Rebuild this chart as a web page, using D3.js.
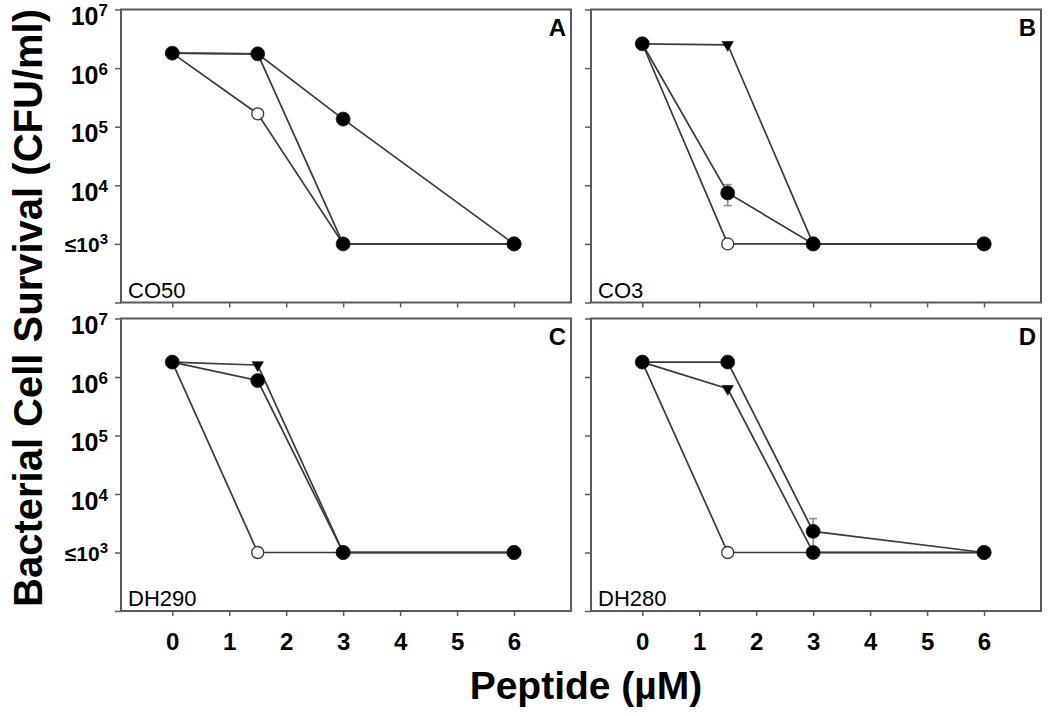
<!DOCTYPE html>
<html>
<head>
<meta charset="utf-8">
<script src="https://cdn.jsdelivr.net/npm/d3@7"></script>
<style>
  html, body { margin: 0; padding: 0; background: #fff; }
  svg { display: block; font-family: "Liberation Sans", Arial, sans-serif; }
</style>
</head>
<body>
<svg id="chart" width="1050" height="716"></svg>
<script>
// ---------------- data ----------------
const concentrations = [0, 1.5, 3, 6];            // peptide (µM)
const panelLetters = ["A", "B", "C", "D"];
const strainNames = ["CO50", "CO3", "DH290", "DH280"];
// CFU/ml, one row per panel (A, B, C, D); null = not plotted
const filledCircleSeries = [
  [1.8e6, 1.75e6, 1.35e5, 1e3],
  [2.6e6, 7.4e3, 1e3, 1e3],
  [1.8e6, 8.7e5, 1e3, 1e3],
  [1.8e6, 1.8e6, 2.3e3, 1e3]
];
const filledCircleErrors = [
  [0, 0, 0, 0],
  [0, 2900, 0, 0],
  [0, 0, 0, 0],
  [0, 0, 1500, 0]
];
const filledCircle2Series = [
  [null, null, 1e3, 1e3],
  [null, null, 1e3, 1e3],
  [null, null, 1e3, 1e3],
  [null, null, 1e3, 1e3]
];
const openCircleSeries = [
  [1.8e6, 1.66e5, 1e3, 1e3],
  [2.6e6, 1e3, 1e3, 1e3],
  [1.8e6, 1e3, 1e3, 1e3],
  [1.8e6, 1e3, 1e3, 1e3]
];
const triangleSeries = [
  [1.8e6, 1.75e6, 1e3, 1e3],
  [2.6e6, 2.5e6, 1e3, 1e3],
  [1.8e6, 1.6e6, 1e3, 1e3],
  [1.8e6, 6.3e5, 1e3, 1e3]
];
const xTickValues = [0, 1, 2, 3, 4, 5, 6];
const yTickValues = [1e2, 1e3, 1e4, 1e5, 1e6, 1e7];
const yTickPrefix = ["", "≤10", "10", "10", "10", "10"];
const yTickExponent = ["", "3", "4", "5", "6", "7"];
const xAxisTitle = "Peptide (µM)";
const yAxisTitle = "Bacterial Cell Survival (CFU/ml)";

// ---------------- layout ----------------
const svg = d3.select("#chart");
const panelBoxes = [
  {x0: 121, x1: 571, y0: 9.5, y1: 302.5},
  {x0: 591, x1: 1041, y0: 9.5, y1: 302.5},
  {x0: 121, x1: 571, y0: 318.5, y1: 611},
  {x0: 591, x1: 1041, y0: 318.5, y1: 611}
];
const lineColor = "#3a3a3a";
const frameColor = "#5a5a5a";

panelBoxes.forEach((b, i) => {
  const x = d3.scaleLinear().domain([-0.9, 7]).range([b.x0, b.x1]);
  const y = d3.scaleLog().domain([1e2, 1e7]).range([b.y1, b.y0]);
  const g = svg.append("g");

  // x axis ticks
  const xAxis = d3.axisBottom(x).tickValues(xTickValues).tickSize(5).tickSizeOuter(0)
    .tickFormat(i >= 2 ? d3.format("d") : () => "");
  const gx = g.append("g").attr("transform", `translate(0,${b.y1})`).call(xAxis);
  gx.select(".domain").remove();
  gx.selectAll(".tick line").attr("stroke", frameColor).attr("stroke-width", 1.5);
  gx.selectAll(".tick text")
    .attr("y", 39).attr("dy", 0)
    .attr("fill", "#000")
    .style("font-size", "24px").style("font-weight", "bold")
    .style("font-family", "'Liberation Sans', Arial, sans-serif");

  // y axis ticks
  const yAxis = d3.axisLeft(y).tickValues(yTickValues).tickSize(6).tickSizeOuter(0).tickFormat(() => "");
  const gy = g.append("g").attr("transform", `translate(${b.x0},0)`).call(yAxis);
  gy.select(".domain").remove();
  gy.selectAll(".tick line").attr("stroke", frameColor).attr("stroke-width", 1.5);
  if (i % 2 === 0) {
    gy.selectAll(".tick text").each(function(d, k) {
      const t = d3.select(this);
      t.text(null).attr("x", -13).attr("dy", 0)
        .attr("text-anchor", "end").attr("fill", "#000")
        .style("font-family", "'Liberation Sans', Arial, sans-serif")
        .style("font-weight", "bold");
      if (!yTickPrefix[k]) return;
      const small = yTickPrefix[k].startsWith("≤");
      t.attr("y", small ? 8 : 15).style("font-size", small ? "21px" : "25px");
      t.append("tspan").text(yTickPrefix[k]);
      t.append("tspan").attr("dy", small ? -8 : -9)
        .style("font-size", small ? "15px" : "17px").text(yTickExponent[k]);
    });
  }

  // frame
  g.append("rect")
    .attr("x", b.x0).attr("y", b.y0)
    .attr("width", b.x1 - b.x0).attr("height", b.y1 - b.y0)
    .attr("fill", "none").attr("stroke", frameColor).attr("stroke-width", 2);

  const line = d3.line().defined(d => d != null)
    .x((d, k) => x(concentrations[k])).y(d => y(d));

  // series lines
  [openCircleSeries[i], triangleSeries[i], filledCircle2Series[i], filledCircleSeries[i]].forEach(s => {
    g.append("path").datum(s).attr("d", line)
      .attr("fill", "none").attr("stroke", lineColor).attr("stroke-width", 1.7);
  });

  // error bars (filled circle series)
  filledCircleSeries[i].forEach((v, k) => {
    const e = filledCircleErrors[i][k];
    if (!e) return;
    const cx = x(concentrations[k]);
    const yt = y(v + e), yb = y(Math.max(v - e, 1));
    const eg = g.append("g").attr("stroke", "#8a8a8a").attr("stroke-width", 1.5);
    eg.append("line").attr("x1", cx).attr("x2", cx).attr("y1", yt).attr("y2", yb);
    eg.append("line").attr("x1", cx - 4).attr("x2", cx + 4).attr("y1", yt).attr("y2", yt);
    eg.append("line").attr("x1", cx - 4).attr("x2", cx + 4).attr("y1", yb).attr("y2", yb);
  });

  const pts = s => s.map((v, k) => ({v, c: concentrations[k]})).filter(p => p.v != null);

  // open circles
  g.selectAll(".open").data(pts(openCircleSeries[i])).enter().append("circle")
    .attr("cx", p => x(p.c)).attr("cy", p => y(p.v)).attr("r", 6)
    .attr("fill", "#fff").attr("stroke", "#333").attr("stroke-width", 1.3);
  // triangles (down)
  g.selectAll(".tri").data(pts(triangleSeries[i])).enter().append("path")
    .attr("d", d3.symbol().type(d3.symbolTriangle).size(55))
    .attr("transform", p => `translate(${x(p.c)},${y(p.v)}) rotate(180)`)
    .attr("fill", "#000").attr("stroke", "#222").attr("stroke-width", 0.8);
  // filled circles (both filled series)
  g.selectAll(".filled").data(pts(filledCircle2Series[i]).concat(pts(filledCircleSeries[i])))
    .enter().append("circle")
    .attr("cx", p => x(p.c)).attr("cy", p => y(p.v)).attr("r", 7)
    .attr("fill", "#000").attr("stroke", "#222").attr("stroke-width", 0.8);

  // panel letter
  g.append("text").attr("x", b.x1 - 5).attr("y", b.y0 + 26)
    .attr("text-anchor", "end").style("font-size", "24px").style("font-weight", "bold")
    .text(panelLetters[i]);
  // strain name
  g.append("text").attr("x", b.x0 + 7).attr("y", b.y1 - 5)
    .style("font-size", "22px").text(strainNames[i]);
});

// axis titles
svg.append("text").attr("x", 586).attr("y", 699)
  .attr("text-anchor", "middle").style("font-size", "39px").style("font-weight", "bold")
  .text(xAxisTitle);
svg.append("text").attr("transform", "translate(42,308) rotate(-90)")
  .attr("text-anchor", "middle").style("font-size", "40px").style("font-weight", "bold")
  .text(yAxisTitle);
</script>
</body>
</html>
